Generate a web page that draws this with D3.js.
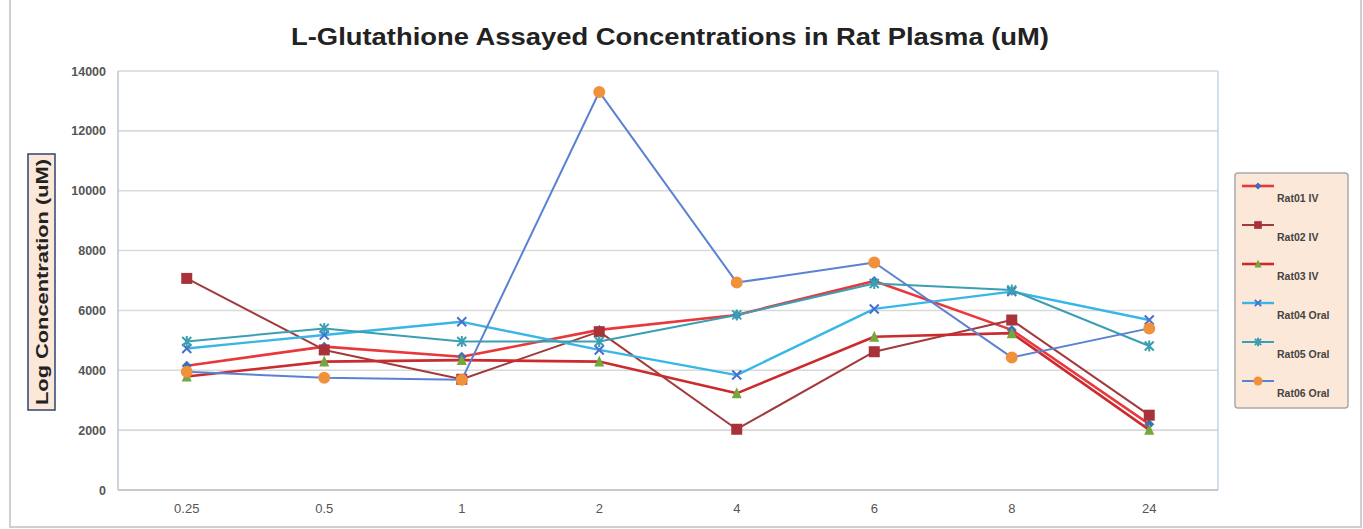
<!DOCTYPE html>
<html><head><meta charset="utf-8">
<script src="https://cdn.jsdelivr.net/npm/d3@7"></script>
<style>body{margin:0;background:#fff}svg{display:block}</style>
</head><body>
<svg id="c" width="1363" height="529"></svg>
<script>
const categories = ["0.25","0.5","1","2","4","6","8","24"];
const yTicks = [0,2000,4000,6000,8000,10000,12000,14000];
const seriesNames = ["Rat01 IV","Rat02 IV","Rat03 IV","Rat04 Oral","Rat05 Oral","Rat06 Oral"];
const rat01 = [4150, 4790, 4450, 5350, 5850, 6980, 5350, 2200];
const rat02 = [7070, 4680, 3700, 5290, 2030, 4620, 5680, 2500];
const rat03 = [3790, 4290, 4340, 4290, 3230, 5120, 5240, 2010];
const rat04 = [4730, 5180, 5620, 4680, 3840, 6050, 6630, 5680];
const rat05 = [4960, 5400, 4960, 4960, 5850, 6900, 6680, 4810];
const rat06 = [3950, 3750, 3680, 13300, 6930, 7600, 4430, 5400];
const seriesValues = [rat01, rat02, rat03, rat04, rat05, rat06];

const styles = [
  {line:"#e8383c", w:2.6, marker:"diamond", mfill:"#3d6fb8", ms:5},
  {line:"#a23a3c", w:2.0, marker:"square", mfill:"#a8323a", ms:11},
  {line:"#cc2b2e", w:2.6, marker:"triangle", mfill:"#72a83c", ms:10},
  {line:"#38b6e6", w:2.4, marker:"x", mfill:"#4a6fcf", ms:9},
  {line:"#3a9fb2", w:2.0, marker:"star", mfill:"#3a9fb2", ms:9},
  {line:"#5b82d2", w:2.0, marker:"circle", mfill:"#f0923c", ms:6}
];

const svg = d3.select("#c");
const L = 118, R = 1218, T = 71, B = 490;

// outer frame
svg.append("rect").attr("x",10).attr("y",-2).attr("width",1351).attr("height",529)
  .attr("fill","#fff").attr("stroke","#cfcfcf").attr("stroke-width",2);

const x = d3.scaleBand().domain(categories).range([L,R]);
const y = d3.scaleLinear().domain([0,14000]).range([B,T]);

// gridlines
svg.append("g").selectAll("line").data(yTicks.slice(1)).join("line")
  .attr("x1",L).attr("x2",R).attr("y1",d=>y(d)).attr("y2",d=>y(d))
  .attr("stroke","#d9d9d9").attr("stroke-width",1.6);

// plot border
svg.append("line").attr("x1",R).attr("x2",R).attr("y1",T).attr("y2",B).attr("stroke","#c4d3e6").attr("stroke-width",1.5);
svg.append("line").attr("x1",L).attr("x2",L).attr("y1",T).attr("y2",B).attr("stroke","#b8c4d4").attr("stroke-width",1.5);
svg.append("line").attr("x1",L).attr("x2",R).attr("y1",B).attr("y2",B).attr("stroke","#c8c8c8").attr("stroke-width",1.8);

// y axis labels
const yAxis = d3.axisLeft(y).tickValues(yTicks).tickSize(0).tickPadding(12).tickFormat(d3.format("d"));
const ga = svg.append("g").attr("transform",`translate(${L},0)`).call(yAxis);
ga.select(".domain").remove();
ga.selectAll("text").attr("font-family","Arial, Liberation Sans, sans-serif").attr("font-size",12.5)
  .attr("font-weight","bold").attr("fill","#555");

// x axis labels
const xAxis = d3.axisBottom(x).tickSize(0).tickPadding(14);
const gx = svg.append("g").attr("transform",`translate(0,${B})`).call(xAxis);
gx.select(".domain").remove();
gx.selectAll("text").attr("font-family","Liberation Sans Narrow, Arial Narrow, Liberation Sans, sans-serif")
  .attr("font-size",13).attr("fill","#555");

// title
svg.append("text").attr("x",670).attr("y",45).attr("text-anchor","middle")
  .attr("font-family","Arial, Liberation Sans, sans-serif").attr("font-weight","bold")
  .attr("font-size",23).attr("fill","#222").attr("textLength",758).attr("lengthAdjust","spacingAndGlyphs")
  .text("L-Glutathione Assayed Concentrations in Rat Plasma (uM)");

// y title with box
svg.append("rect").attr("x",28).attr("y",154).attr("width",27).attr("height",256)
  .attr("fill","#fbe8d8").attr("stroke","#3a4f7a").attr("stroke-width",1.6);
svg.append("text").attr("transform","translate(48,282) rotate(-90)").attr("text-anchor","middle")
  .attr("font-family","Arial, Liberation Sans, sans-serif").attr("font-weight","bold")
  .attr("font-size",16).attr("fill","#222").attr("textLength",246).attr("lengthAdjust","spacingAndGlyphs")
  .text("Log Concentration (uM)");

function drawMarker(g, type, cx, cy, st){
  const s = st.ms;
  if(type==="circle"){
    g.append("circle").attr("cx",cx).attr("cy",cy).attr("r",s).attr("fill",st.mfill);
  } else if(type==="square"){
    g.append("rect").attr("x",cx-s/2).attr("y",cy-s/2).attr("width",s).attr("height",s).attr("fill",st.mfill);
  } else if(type==="triangle"){
    g.append("path").attr("d",`M${cx},${cy-s/2-1}L${cx+s/2},${cy+s/2}L${cx-s/2},${cy+s/2}Z`).attr("fill",st.mfill);
  } else if(type==="diamond"){
    g.append("path").attr("d",`M${cx},${cy-s}L${cx+s},${cy}L${cx},${cy+s}L${cx-s},${cy}Z`).attr("fill",st.mfill);
  } else if(type==="x"){
    const h=s/2;
    g.append("path").attr("d",`M${cx-h},${cy-h}L${cx+h},${cy+h}M${cx-h},${cy+h}L${cx+h},${cy-h}`)
      .attr("stroke",st.mfill).attr("stroke-width",2);
  } else if(type==="star"){
    const h=s/2;
    g.append("path").attr("d",`M${cx-h},${cy-h}L${cx+h},${cy+h}M${cx-h},${cy+h}L${cx+h},${cy-h}M${cx},${cy-h-1}L${cx},${cy+h+1}`)
      .attr("stroke",st.mfill).attr("stroke-width",2);
  }
}

const line = d3.line().x((d,i)=>x(categories[i])+x.bandwidth()/2).y(d=>y(d));
seriesValues.forEach((vals,k)=>{
  const st = styles[k];
  const g = svg.append("g");
  g.append("path").datum(vals).attr("d",line).attr("fill","none")
    .attr("stroke",st.line).attr("stroke-width",st.w).attr("stroke-linejoin","round");
  vals.forEach((v,i)=>drawMarker(g, st.marker, x(categories[i])+x.bandwidth()/2, y(v), st));
});

// legend
const lg = svg.append("g");
lg.append("rect").attr("x",1235).attr("y",173).attr("width",113).attr("height",235).attr("rx",3)
  .attr("fill","#fce8d8").attr("stroke","#a9a9a9").attr("stroke-width",1.5);
seriesNames.forEach((name,k)=>{
  const st = styles[k];
  const ly = 186 + k*39;
  lg.append("line").attr("x1",1242).attr("x2",1274).attr("y1",ly).attr("y2",ly)
    .attr("stroke",st.line).attr("stroke-width",st.w);
  const ms = Object.assign({}, st, {ms: st.marker==="circle"?4.5:(st.marker==="diamond"?3.5:st.ms*0.7)});
  drawMarker(lg, st.marker, 1258, ly, ms);
  lg.append("text").attr("x",1277).attr("y",ly+16).attr("font-family","Arial, Liberation Sans, sans-serif")
    .attr("font-size",10.5).attr("font-weight","bold").attr("fill","#444").text(name);
});
</script>
</body></html>
